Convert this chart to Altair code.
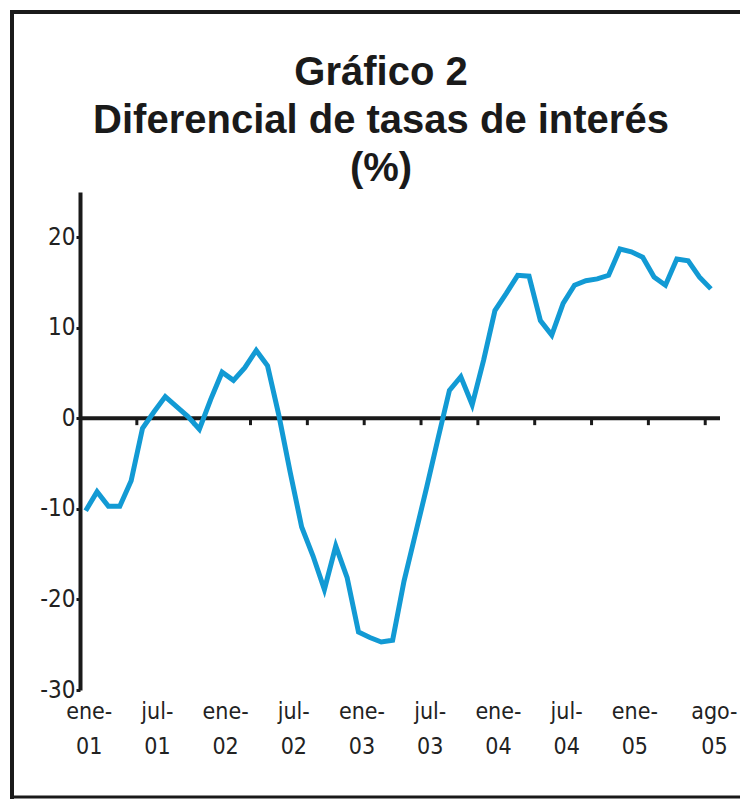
import altair as alt
import pandas as pd

# Monthly data, ene-01 (index 0) .. ago-05 (index 55)
month_index = list(range(56))
spread = [
    -10.2, -8.1, -9.7, -9.7, -6.9, -1.1, 0.7, 2.4, 1.3, 0.2,
    -1.2, 2.1, 5.1, 4.2, 5.6, 7.5, 5.8, 0.3, -6.0, -12.0,
    -15.2, -18.9, -14.1, -17.6, -23.6, -24.2, -24.7, -24.5, -18.0, -12.8,
    -7.6, -2.2, 3.1, 4.6, 1.5, 6.4, 11.9, 13.8, 15.8, 15.7,
    10.8, 9.2, 12.7, 14.7, 15.2, 15.4, 15.8, 18.7, 18.4, 17.8,
    15.6, 14.7, 17.6, 17.4, 15.6, 14.3,
]
label_positions = [0, 6, 12, 18, 24, 30, 36, 42, 48, 55]
label_texts = ["ene-|01", "jul-|01", "ene-|02", "jul-|02", "ene-|03",
               "jul-|03", "ene-|04", "jul-|04", "ene-|05", "ago-|05"]
tick_positions = [4.5, 9.5, 14.5, 19.5, 24.5, 29.5, 34.5, 39.5, 44.5, 49.5, 54.5]
y_ticks = [-30, -20, -10, 0, 10, 20]
title_lines = ["Gráfico 2", "Diferencial de tasas de interés", "(%)"]

df = pd.DataFrame({"mes": month_index, "valor": spread})
ticks_df = pd.DataFrame({"pos": tick_positions})
zero_df = pd.DataFrame({"x0": [-0.5], "x1": [55.8]})

TITLE_FONT = "Liberation Sans"
LABEL_FONT = "DejaVu Sans Condensed"
FRAME = "#1a1a1a"
label_expr = "split(" + str(label_texts) + "[floor(datum.value / 6)], '|')"

xscale = alt.Scale(domain=[-0.5, 55.8], nice=False, zero=False)
yscale = alt.Scale(domain=[-30, 25], nice=False, zero=False)

line = alt.Chart(df).mark_line(color="#129ad4", strokeWidth=5, strokeJoin="miter").encode(
    x=alt.X("mes:Q", scale=xscale,
            axis=alt.Axis(values=label_positions, labelExpr=label_expr, domain=False,
                          ticks=False, grid=False, title=None, labelFont=LABEL_FONT,
                          labelFontSize=23, labelColor="#222222", labelLineHeight=35,
                          labelPadding=10, labelOffset=3, labelAngle=0,
                          labelOverlap=False, labelFlush=False)),
    y=alt.Y("valor:Q", scale=yscale,
            axis=alt.Axis(values=y_ticks, grid=False, title=None, domainColor=FRAME,
                          domainWidth=4, tickColor=FRAME, tickWidth=3, tickSize=4,
                          labelExpr="'' + datum.value",
                          labelFont=LABEL_FONT, labelFontSize=24, labelColor="#222222",
                          labelPadding=1)),
)

zero_rule = alt.Chart(zero_df).mark_rule(color=FRAME, strokeWidth=4).encode(
    x=alt.X("x0:Q", scale=xscale), x2="x1:Q", y=alt.datum(0, scale=yscale)
)

tick_marks = alt.Chart(ticks_df).mark_rule(color=FRAME, strokeWidth=3).encode(
    x=alt.X("pos:Q", scale=xscale), y=alt.datum(0), y2=alt.datum(-0.75)
)

# outer frame (top, left, bottom edges; right edge lies outside the picture)
frame_top = alt.Chart(zero_df).mark_rule(color=FRAME, strokeWidth=4).encode(
    x=alt.value(-70), x2=alt.value(700), y=alt.value(-180)
)
frame_left = alt.Chart(zero_df).mark_rule(color=FRAME, strokeWidth=4).encode(
    x=alt.value(-68), y=alt.value(-182), y2=alt.value(607)
)
frame_bottom = alt.Chart(zero_df).mark_rule(color=FRAME, strokeWidth=3).encode(
    x=alt.value(-70), x2=alt.value(700), y=alt.value(605)
)

title = alt.Chart(zero_df).mark_text(
    text=title_lines, font=TITLE_FONT, fontSize=40, fontWeight="bold",
    color="#1a1a1a", lineHeight=48, align="center", baseline="alphabetic",
).encode(x=alt.value(301), y=alt.value(-107))

chart = alt.layer(frame_top, frame_left, frame_bottom, zero_rule, tick_marks, line, title).properties(
    width=640,
    height=498,
    padding={"left": 72, "top": 184, "right": 20, "bottom": 109},
    autosize=alt.AutoSizeParams(type="none"),
    background="white",
).configure_view(stroke="transparent", strokeWidth=0)

chart.save("out.html", embed_options={"renderer": "svg", "actions": False})
